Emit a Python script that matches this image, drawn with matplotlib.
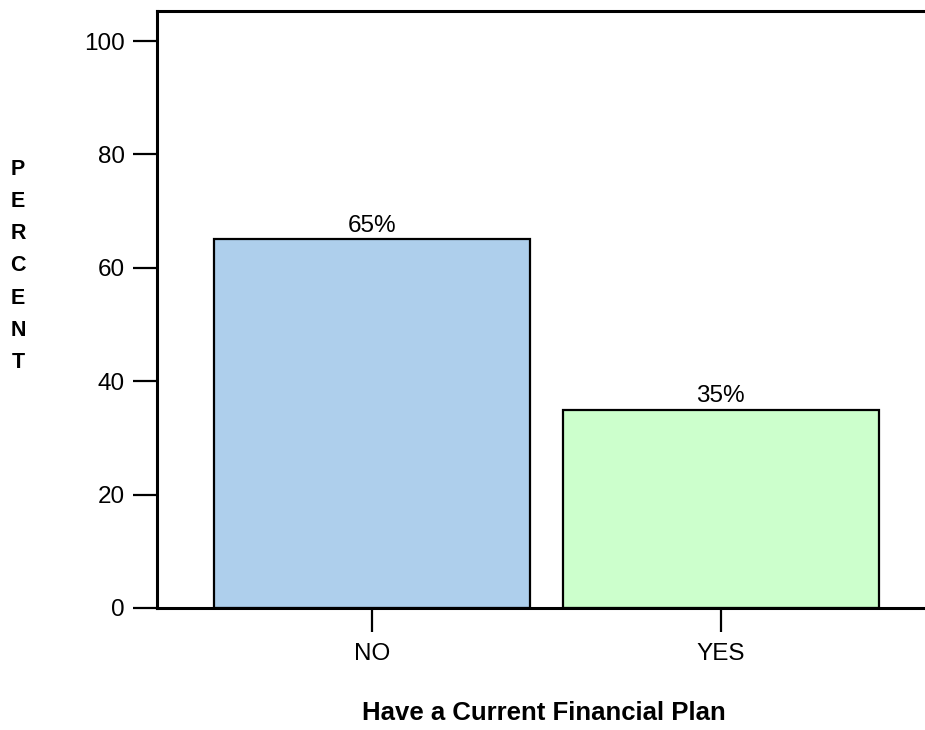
import matplotlib
matplotlib.use("Agg")
import matplotlib.pyplot as plt

categories = ["NO", "YES"]
percents = [65, 35]
bar_colors = ["#AECFEC", "#CCFFCC"]
yticks = [0, 20, 40, 60, 80, 100]

plt.rcParams["font.family"] = ["Liberation Sans", "DejaVu Sans"]

fig = plt.figure(figsize=(9.25, 7.3), dpi=100)
ax = fig.add_axes([157 / 925, 1 - 608 / 730, (925 - 157) / 925, (608 - 11) / 730])

x = list(range(len(categories)))
ax.bar(x, percents, width=0.905, color=bar_colors, edgecolor="black", linewidth=1.6, zorder=2)
for xi, v in zip(x, percents):
    ax.text(xi, v + 0.5, f"{v}%", ha="center", va="bottom", fontsize=17.5)

ax.set_xlim(-0.616, 1.585)
ax.set_ylim(0, 105.3)
ax.set_xticks(x)
ax.set_xticklabels(categories, fontsize=17.5)
ax.set_yticks(yticks)
ax.set_yticklabels([str(t) for t in yticks], fontsize=17.5)
ax.tick_params(axis="both", direction="out", length=17, width=1.6, pad=6)
ax.tick_params(axis="x", pad=8)

for side in ["left", "bottom", "top"]:
    ax.spines[side].set_linewidth(2.2)
ax.spines["right"].set_visible(False)

fig.text(0.5 * (360 + 728) / 925, 1 - 713 / 730, "Have a Current Financial Plan",
         ha="center", va="center", fontsize=18.5, fontweight="bold")
fig.text(18 / 925, 1 - 266 / 730, "\n".join("PERCENT"), ha="center", va="center",
         fontsize=15.5, fontweight="bold", linespacing=1.7)

fig.savefig("out.png", dpi=100)
